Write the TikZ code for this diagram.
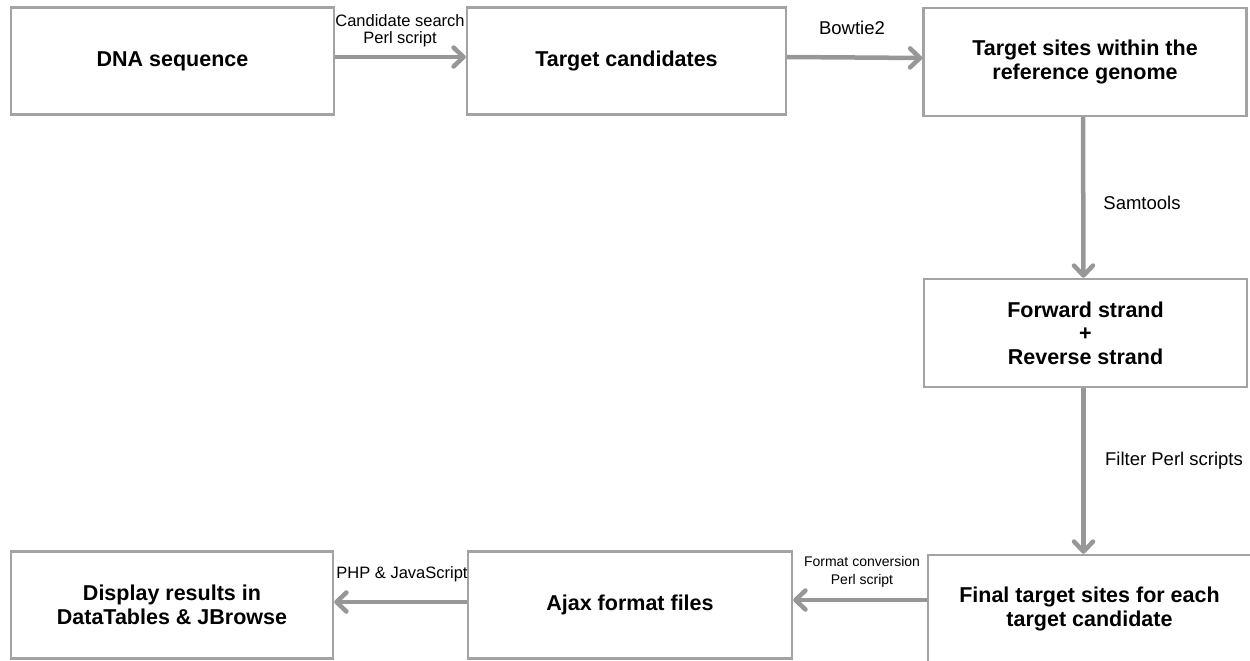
\documentclass[tikz,border=0pt]{standalone}
\usepackage{fontspec}
\setmainfont{Liberation Sans}
\usetikzlibrary{arrows.meta}
\definecolor{boxgray}{HTML}{A3A3A3}
\definecolor{arrgray}{HTML}{979797}
\tikzset{
  box/.style={draw=boxgray, line width=2.4pt, minimum width=323pt, minimum height=107pt,
    align=center, inner sep=0pt, font=\bfseries\fontsize{21.5}{23.5}\selectfont},
  arr/.style={draw=arrgray, line width=4.5pt,
    -{Straight Barb[length=10pt,width=19pt,round]}},
  lbl/.style={align=center, inner sep=0pt, font=\fontsize{18.5}{20}\selectfont},
  slbl/.style={align=center, inner sep=0pt, font=\fontsize{16.5}{17}\selectfont},
  tlbl/.style={align=center, inner sep=0pt, font=\fontsize{14}{18}\selectfont},
}
\begin{document}
\begin{tikzpicture}[x=1pt,y=-1pt]
\useasboundingbox (0,0) rectangle (1250,661);
\node[box] (dna) at (172.5,61) {DNA sequence};
\node[box, minimum width=319pt] (tc) at (626.5,61) {Target candidates};
\node[box, minimum height=108pt] (ts) at (1085,62) {Target sites within the\\reference genome};
\node[box, minimum height=108pt] (fw) at (1085.5,333) {Forward strand\\+\\Reverse strand};
\node[box, minimum height=108pt] (fin) at (1089.5,609) {Final target sites for each\\target candidate};
\node[box, minimum width=324pt] (ajax) at (630,605) {Ajax format files};
\node[box, minimum width=322pt] (disp) at (172,605) {Display results in\\DataTables \& JBrowse};

\draw[arr] ([yshift=4pt]dna.east) -- ([yshift=4pt]tc.west);
\draw[arr] ([yshift=4pt]tc.east) -- ([yshift=4pt]ts.west);
\draw[arr] ([xshift=-2pt]ts.south) -- ([xshift=-2pt]fw.north);
\draw[arr] ([xshift=-2pt]fw.south) -- ([xshift=-2pt]fw.south |- fin.north);
\draw[arr] ([yshift=9pt]fin.west) -- ([yshift=5pt]ajax.east);
\draw[arr] ([yshift=3pt]ajax.west) -- ([yshift=3pt]disp.east);

\node[slbl] (l1) at (400,30.5) {Candidate search\\Perl script};
\node[lbl] (l2) at (852,28) {Bowtie2};
\node[lbl] (l3) at (1142,202.5) {Samtools};
\node[lbl] (l4) at (1174,461) {Filter Perl scripts};
\node[tlbl] (l5) at (862,572) {Format conversion\\Perl script};
\node[slbl] (l6) at (402,574) {PHP \& JavaScript};
\end{tikzpicture}
\end{document}
